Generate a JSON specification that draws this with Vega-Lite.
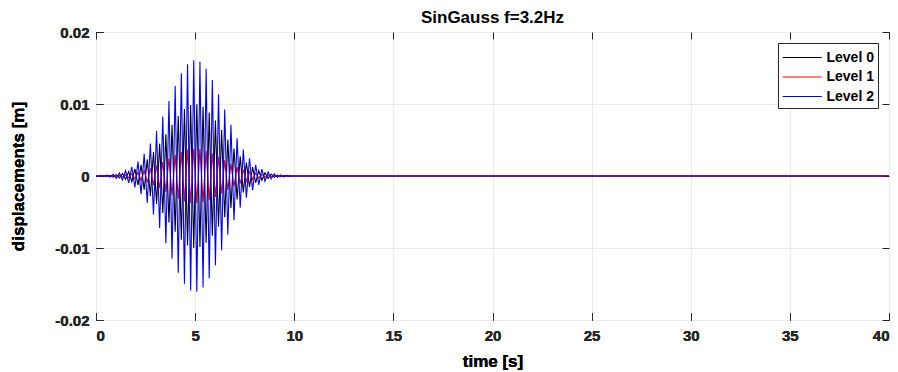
{
  "$schema": "https://vega.github.io/schema/vega-lite/v6.json",
  "width": 793,
  "height": 288,
  "autosize": "none",
  "padding": {"left": 96, "top": 32, "right": 9, "bottom": 52},
  "background": "white",
  "title": {"text": "SinGauss f=3.2Hz", "font": "Liberation Sans", "fontSize": 17, "fontWeight": "bold", "color": "black", "anchor": "middle", "frame": "group", "baseline": "alphabetic", "offset": -15},
  "datasets": {"wave": [
    {"t": 0, "Level 0": 0, "Level 1": 0, "Level 2": 0},
    {"t": 0.086, "Level 0": 0.0000239, "Level 1": -0.0000091, "Level 2": -0.0000385},
    {"t": 0.243, "Level 0": -0.0000349, "Level 1": 0.0000133, "Level 2": 0.0000562},
    {"t": 0.399, "Level 0": 0.0000502, "Level 1": -0.0000191, "Level 2": -0.0000808},
    {"t": 0.555, "Level 0": -0.0000715, "Level 1": 0.0000272, "Level 2": 0.000115},
    {"t": 0.711, "Level 0": 0.000101, "Level 1": -0.0000382, "Level 2": -0.000162},
    {"t": 0.868, "Level 0": -0.00014, "Level 1": 0.0000532, "Level 2": 0.000225},
    {"t": 1.024, "Level 0": 0.000192, "Level 1": -0.000073, "Level 2": -0.000309},
    {"t": 1.18, "Level 0": -0.00026, "Level 1": 0.000099, "Level 2": 0.000419},
    {"t": 1.336, "Level 0": 0.000349, "Level 1": -0.000133, "Level 2": -0.000562},
    {"t": 1.493, "Level 0": -0.000462, "Level 1": 0.000175, "Level 2": 0.000743},
    {"t": 1.649, "Level 0": 0.000603, "Level 1": -0.000229, "Level 2": -0.000971},
    {"t": 1.805, "Level 0": -0.000779, "Level 1": 0.000296, "Level 2": 0.001255},
    {"t": 1.961, "Level 0": 0.000995, "Level 1": -0.000378, "Level 2": -0.001601},
    {"t": 2.118, "Level 0": -0.001253, "Level 1": 0.000476, "Level 2": 0.002017},
    {"t": 2.274, "Level 0": 0.00156, "Level 1": -0.000593, "Level 2": -0.002512},
    {"t": 2.43, "Level 0": -0.001918, "Level 1": 0.000729, "Level 2": 0.003088},
    {"t": 2.586, "Level 0": 0.00233, "Level 1": -0.000885, "Level 2": -0.003751},
    {"t": 2.743, "Level 0": -0.002797, "Level 1": 0.001063, "Level 2": 0.004503},
    {"t": 2.899, "Level 0": 0.003317, "Level 1": -0.00126, "Level 2": -0.00534},
    {"t": 3.055, "Level 0": -0.003884, "Level 1": 0.001476, "Level 2": 0.006253},
    {"t": 3.211, "Level 0": 0.004493, "Level 1": -0.001707, "Level 2": -0.007234},
    {"t": 3.368, "Level 0": -0.005136, "Level 1": 0.001952, "Level 2": 0.008269},
    {"t": 3.524, "Level 0": 0.0058, "Level 1": -0.002204, "Level 2": -0.009338},
    {"t": 3.68, "Level 0": -0.006469, "Level 1": 0.002458, "Level 2": 0.010415},
    {"t": 3.836, "Level 0": 0.007128, "Level 1": -0.002709, "Level 2": -0.011476},
    {"t": 3.993, "Level 0": -0.007758, "Level 1": 0.002948, "Level 2": 0.01249},
    {"t": 4.149, "Level 0": 0.008343, "Level 1": -0.00317, "Level 2": -0.013432},
    {"t": 4.305, "Level 0": -0.008862, "Level 1": 0.003368, "Level 2": 0.014268},
    {"t": 4.461, "Level 0": 0.0093, "Level 1": -0.003534, "Level 2": -0.014973},
    {"t": 4.618, "Level 0": -0.009641, "Level 1": 0.003664, "Level 2": 0.015522},
    {"t": 4.774, "Level 0": 0.009873, "Level 1": -0.003752, "Level 2": -0.015896},
    {"t": 4.93, "Level 0": -0.009988, "Level 1": 0.003795, "Level 2": 0.016081},
    {"t": 5.086, "Level 0": 0.009981, "Level 1": -0.003793, "Level 2": -0.016069},
    {"t": 5.243, "Level 0": -0.009854, "Level 1": 0.003745, "Level 2": 0.015865},
    {"t": 5.399, "Level 0": 0.00961, "Level 1": -0.003652, "Level 2": -0.015472},
    {"t": 5.555, "Level 0": -0.009259, "Level 1": 0.003518, "Level 2": 0.014907},
    {"t": 5.711, "Level 0": 0.008812, "Level 1": -0.003349, "Level 2": -0.014187},
    {"t": 5.868, "Level 0": -0.008285, "Level 1": 0.003148, "Level 2": 0.013339},
    {"t": 6.024, "Level 0": 0.007695, "Level 1": -0.002924, "Level 2": -0.012389},
    {"t": 6.18, "Level 0": -0.00706, "Level 1": 0.002683, "Level 2": 0.011367},
    {"t": 6.336, "Level 0": 0.006399, "Level 1": -0.002432, "Level 2": -0.010302},
    {"t": 6.493, "Level 0": -0.00573, "Level 1": 0.002177, "Level 2": 0.009225},
    {"t": 6.649, "Level 0": 0.005068, "Level 1": -0.001926, "Level 2": -0.008159},
    {"t": 6.805, "Level 0": -0.004429, "Level 1": 0.001683, "Level 2": 0.007131},
    {"t": 6.961, "Level 0": 0.003823, "Level 1": -0.001453, "Level 2": -0.006155},
    {"t": 7.118, "Level 0": -0.00326, "Level 1": 0.001239, "Level 2": 0.005249},
    {"t": 7.274, "Level 0": 0.002746, "Level 1": -0.001043, "Level 2": -0.004421},
    {"t": 7.43, "Level 0": -0.002285, "Level 1": 0.000868, "Level 2": 0.003679},
    {"t": 7.586, "Level 0": 0.001878, "Level 1": -0.000714, "Level 2": -0.003024},
    {"t": 7.743, "Level 0": -0.001526, "Level 1": 0.00058, "Level 2": 0.002457},
    {"t": 7.899, "Level 0": 0.001224, "Level 1": -0.000465, "Level 2": -0.001971},
    {"t": 8.055, "Level 0": -0.00097, "Level 1": 0.000369, "Level 2": 0.001562},
    {"t": 8.211, "Level 0": 0.000759, "Level 1": -0.000288, "Level 2": -0.001222},
    {"t": 8.368, "Level 0": -0.000587, "Level 1": 0.000223, "Level 2": 0.000945},
    {"t": 8.524, "Level 0": 0.000449, "Level 1": -0.000171, "Level 2": -0.000723},
    {"t": 8.68, "Level 0": -0.000339, "Level 1": 0.000129, "Level 2": 0.000546},
    {"t": 8.836, "Level 0": 0.000252, "Level 1": -0.0000958, "Level 2": -0.000406},
    {"t": 8.993, "Level 0": -0.000186, "Level 1": 0.0000707, "Level 2": 0.000299},
    {"t": 9.149, "Level 0": 0.000135, "Level 1": -0.0000513, "Level 2": -0.000217},
    {"t": 9.305, "Level 0": -0.0000973, "Level 1": 0.000037, "Level 2": 0.000157},
    {"t": 9.461, "Level 0": 0.000069, "Level 1": -0.0000262, "Level 2": -0.000111},
    {"t": 9.618, "Level 0": -0.0000484, "Level 1": 0.0000184, "Level 2": 0.0000779},
    {"t": 9.774, "Level 0": 0.0000336, "Level 1": -0.0000128, "Level 2": -0.0000541},
    {"t": 9.93, "Level 0": -0.000023, "Level 1": 0.0000087, "Level 2": 0.000037},
    {"t": 10, "Level 0": 0, "Level 1": 0, "Level 2": 0},
    {"t": 40, "Level 0": 0, "Level 1": 0, "Level 2": 0}
  ]},
  "data": {"name": "wave"},
  "transform": [{"fold": ["Level 0", "Level 1", "Level 2"], "as": ["series", "y"]}],
  "encoding": {
    "x": {"field": "t", "type": "quantitative", "scale": {"domain": [0, 40], "nice": false, "zero": false},
          "axis": {"orient": "bottom", "values": [0, 5, 10, 15, 20, 25, 30, 35, 40], "title": "time [s]", "labelPadding": 15, "titleFontSize": 17, "titlePadding": 10}},
    "y": {"field": "y", "type": "quantitative", "scale": {"domain": [-0.02, 0.02], "nice": false, "zero": false},
          "axis": {"orient": "left", "values": [-0.02, -0.01, 0, 0.01, 0.02], "title": "displacements [m]", "labelPadding": 14, "titleFontSize": 17, "titlePadding": 27,
                   "labelExpr": "datum.value == 0 ? '0' : replace(format(datum.value, '.2f'), '\u2212', '-')"}}
  },
  "layer": [
    {"transform": [{"filter": "datum.series == 'Level 0'"}], "mark": {"type": "line", "strokeWidth": 1.1, "clip": true},
     "encoding": {"color": {"field": "series", "type": "nominal", "scale": {"domain": ["Level 0", "Level 1", "Level 2"], "range": ["#000000", "#ff0000", "#0000ff"]}, "legend": {"title": null, "orient": "top-right", "offset": 11}}}},
    {"transform": [{"filter": "datum.series == 'Level 1'"}], "mark": {"type": "line", "strokeWidth": 1.1, "clip": true},
     "encoding": {"color": {"field": "series", "type": "nominal"}}},
    {"transform": [{"filter": "datum.series == 'Level 2'"}], "mark": {"type": "line", "strokeWidth": 1.1, "clip": true},
     "encoding": {"color": {"field": "series", "type": "nominal"}}},
    {
      "mark": {"type": "point", "opacity": 0},
      "encoding": {
        "x": {"field": "t", "type": "quantitative", "axis": {"orient": "top", "values": [0, 5, 10, 15, 20, 25, 30, 35, 40], "labels": false, "grid": false, "title": null}},
        "y": {"field": "y", "type": "quantitative", "axis": {"orient": "right", "values": [-0.02, -0.01, 0, 0.01, 0.02], "labels": false, "grid": false, "title": null}}
      }
    }
  ],
  "resolve": {"axis": {"x": "independent", "y": "independent"}},
  "config": {
    "font": "Liberation Sans",
    "view": {"stroke": "#262626", "strokeWidth": 1},
    "axis": {"domain": false, "grid": true, "gridColor": "#ebebeb", "gridWidth": 1, "tickColor": "#262626", "tickSize": -7, "tickWidth": 1,
             "labelFont": "Liberation Sans", "labelFontSize": 15, "labelFontWeight": "bold", "labelColor": "#262626",
             "titleFont": "Liberation Sans", "titleFontWeight": "bold", "titleColor": "#000000"},
    "legend": {"strokeColor": "#262626", "strokeWidth": 1, "fillColor": "white", "padding": 4, "symbolType": "M-1,0H3", "symbolSize": 380, "symbolStrokeWidth": 1.2,
               "labelFont": "Liberation Sans", "labelFontSize": 14, "labelFontWeight": "bold", "labelColor": "#000000", "labelOffset": 23.5, "rowPadding": 1.5}
  }
}
